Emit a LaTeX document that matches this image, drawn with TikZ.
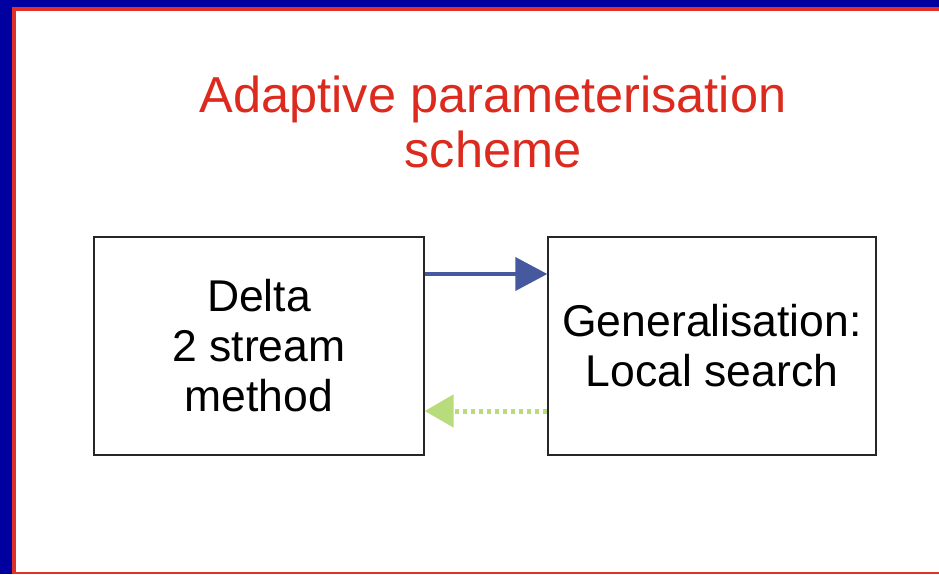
\documentclass[tikz,border=0pt]{standalone}
\usepackage{fontspec}
\setmainfont{Liberation Sans}
\usetikzlibrary{arrows.meta}
\definecolor{frameblue}{HTML}{0000A0}
\definecolor{framered}{HTML}{E0302A}
\definecolor{titlered}{HTML}{DD2A1E}
\definecolor{arrowblue}{HTML}{46599E}
\definecolor{arrowgreen}{HTML}{B8DB7C}
\tikzset{
  boxstyle/.style={draw=black!85, line width=1.4pt, minimum width=330pt, minimum height=218pt, inner sep=0pt, align=center, font=\fontsize{44.5}{50}\selectfont},
  fwdarrow/.style={draw=arrowblue, line width=4pt, -{Triangle[length=32pt,width=33pt]}},
  backarrow/.style={draw=arrowgreen, line width=5pt, dash pattern=on 4.5pt off 3.5pt, -{Triangle[length=29pt,width=32pt]}}
}
\begin{document}
\begin{tikzpicture}[x=1pt,y=-1pt]
\useasboundingbox (0,0) rectangle (939,574);
\fill[white] (0,0) rectangle (939,574);
\fill[frameblue] (0,0) rectangle (12,574);
\fill[frameblue] (0,0) rectangle (939,7);
\fill[framered] (12,7) rectangle (16,574);
\fill[framered] (12,7) rectangle (939,11);
\fill[framered] (12,572) rectangle (939,574);
\node[text=titlered, align=center, font=\fontsize{50.5}{55}\selectfont] (title) at (493,122) {Adaptive parameterisation\\scheme};
\node[boxstyle] (delta) at (259,346) {Delta\\2 stream\\method};
\node[boxstyle, minimum width=328pt] (gen) at (712,346) {Generalisation:\\Local search};
\draw[fwdarrow] (delta.east |- 0,274) -- (gen.west |- 0,274);
\draw[backarrow] (gen.west |- 0,411) -- (delta.east |- 0,411);
\end{tikzpicture}
\end{document}
